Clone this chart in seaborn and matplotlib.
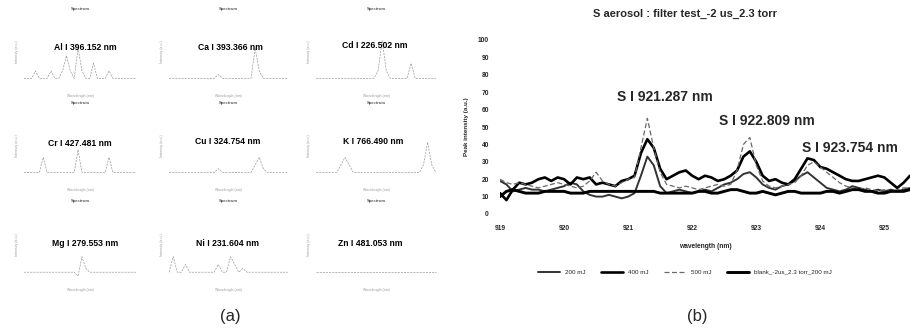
import matplotlib
matplotlib.use("Agg")
import matplotlib.pyplot as plt
import pandas as pd
import seaborn as sns

sns.set_style("white")
plt.rcParams['font.family'] = ['Liberation Sans', 'DejaVu Sans']

# ---------------- panel (b) data ----------------
wavelength = [919.0, 919.1, 919.2, 919.3, 919.4, 919.5, 919.6, 919.7, 919.8, 919.9,
              920.0, 920.1, 920.2, 920.3, 920.4, 920.5, 920.6, 920.7, 920.8, 920.9,
              921.0, 921.1, 921.2, 921.3, 921.4, 921.5, 921.6, 921.7, 921.8, 921.9,
              922.0, 922.1, 922.2, 922.3, 922.4, 922.5, 922.6, 922.7, 922.8, 922.9,
              923.0, 923.1, 923.2, 923.3, 923.4, 923.5, 923.6, 923.7, 923.8, 923.9,
              924.0, 924.1, 924.2, 924.3, 924.4, 924.5, 924.6, 924.7, 924.8, 924.9,
              925.0, 925.1, 925.2, 925.3, 925.4]

s_200 = [19, 17, 13, 14, 15, 14, 14, 13, 14, 15,
         16, 18, 17, 13, 11, 10, 10, 11, 10, 9,
         10, 12, 22, 33, 28, 16, 12, 13, 14, 13,
         12, 13, 14, 13, 15, 17, 18, 20, 23, 24,
         21, 17, 15, 14, 16, 17, 19, 22, 24, 21,
         18, 15, 14, 13, 14, 16, 15, 14, 13, 14,
         13, 14, 13, 14, 15]

s_400 = [12, 8, 14, 18, 17, 18, 20, 21, 19, 21,
         20, 17, 21, 20, 21, 17, 18, 17, 16, 19,
         20, 22, 35, 43, 38, 26, 20, 22, 24, 25,
         22, 20, 22, 21, 19, 20, 22, 25, 33, 36,
         30, 22, 19, 20, 18, 17, 20, 26, 32, 31,
         27, 26, 24, 22, 20, 19, 19, 20, 21, 22,
         21, 18, 15, 18, 22]

s_500 = [20, 18, 17, 18, 17, 16, 15, 16, 17, 18,
         17, 16, 15, 16, 19, 24, 19, 17, 16, 18,
         20, 21, 38, 55, 38, 24, 17, 16, 15, 16,
         15, 14, 15, 16, 17, 16, 17, 25, 40, 44,
         28, 19, 16, 15, 16, 17, 18, 22, 28, 30,
         27, 24, 21, 18, 16, 15, 14, 15, 14, 13,
         14, 13, 14, 15, 15]

s_blank = [10, 13, 14, 13, 12, 12, 12, 13, 13, 13,
           13, 12, 12, 12, 13, 13, 13, 13, 13, 13,
           13, 13, 13, 13, 13, 12, 12, 12, 12, 12,
           12, 13, 13, 12, 12, 13, 14, 14, 13, 12,
           12, 13, 12, 11, 12, 13, 13, 12, 12, 12,
           12, 13, 13, 12, 13, 14, 14, 13, 13, 12,
           12, 13, 13, 13, 14]

series_names = ["200 mJ", "400 mJ", "500 mJ", "blank_-2us_2.3 torr_200 mJ"]
y_ticks = [0, 10, 20, 30, 40, 50, 60, 70, 80, 90, 100]
x_ticks = [919, 920, 921, 922, 923, 924, 925]
peak_labels = ["S I 921.287 nm", "S I 922.809 nm", "S I 923.754 nm"]
peak_label_pos = [(921.58, 67), (923.16, 53.5), (924.47, 38)]

# ---------------- panel (a) data ----------------
element_labels = ["Al I 396.152 nm", "Ca I 393.366 nm", "Cd I 226.502 nm",
                  "Cr I 427.481 nm", "Cu I 324.754 nm", "K I 766.490 nm",
                  "Mg I 279.553 nm", "Ni I 231.604 nm", "Zn I 481.053 nm"]
spec_al = [1, 1, 1, 2, 1, 1, 1, 2, 1, 1, 2, 4, 2, 1, 5, 2, 1, 1, 3, 1, 1, 1, 2, 1, 1, 1, 1, 1, 1, 1]
spec_ca = [1, 1, 1, 1, 1, 1, 1, 1, 1, 1, 1, 1, 1.5, 1, 1, 1, 1, 1, 1, 1, 1, 5, 2, 1, 1, 1, 1, 1, 1, 1]
spec_cd = [1, 1, 1, 1, 1, 1, 1, 1, 1, 1, 1, 1, 1, 1, 1, 2, 6, 2, 1, 1, 1, 1, 1, 3, 1, 1, 1, 1, 1, 1]
spec_cr = [1, 1, 1, 1, 1, 3, 1, 1, 1, 1, 1, 1, 1, 1, 4, 1, 1, 1, 1, 1, 1, 1, 3, 1, 1, 1, 1, 1, 1, 1]
spec_cu = [1, 1, 1, 1, 1, 1, 1, 1, 1, 1, 1, 1, 1.5, 1, 1, 1, 1, 1, 1, 1, 1, 2, 3, 1.5, 1, 1, 1, 1, 1, 1]
spec_k = [1, 1, 1, 1, 1, 1, 2, 3, 2, 1, 1, 1, 1, 1, 1, 1, 1, 1, 1, 1, 1, 1, 1, 1, 1, 1, 2, 5, 2, 1]
spec_mg = [1, 1, 1, 1, 1, 1, 1, 1, 1, 1, 1, 1, 1, 1, 0.5, 3, 1.5, 1, 1, 1, 1, 1, 1, 1, 1, 1, 1, 1, 1, 1]
spec_ni = [1, 3, 1, 1, 2, 1, 1, 1, 1, 1, 1, 1, 2, 1, 1, 3, 2, 1, 1.5, 1, 1, 1, 1, 1, 1, 1, 1, 1, 1, 1]
spec_zn = [1, 1, 1, 1, 1, 1, 1, 1, 1, 1, 1, 1, 1, 1, 1, 1, 1, 1, 1, 1, 1, 1, 1, 1, 1, 1, 1, 1, 1, 1]
spectra = [spec_al, spec_ca, spec_cd, spec_cr, spec_cu, spec_k, spec_mg, spec_ni, spec_zn]
spec_index = list(range(30))

W, H = 910, 329
fig = plt.figure(figsize=(W / 100, H / 100), dpi=100)


def rect(x0, y0, x1, y1):
    return [x0 / W, 1 - y1 / H, (x1 - x0) / W, (y1 - y0) / H]


# ---------------- panel (a) ----------------
col_x = [(20, 140), (165, 292), (312, 440)]
row_y = [(18, 86), (112, 180), (210, 280)]
label_centres = [(85, 47), (230, 47), (375, 46), (80, 143), (228, 142), (373, 142),
                 (85, 244), (228, 243), (370, 243)]
for k in range(9):
    r, c = divmod(k, 3)
    x0, x1 = col_x[c]
    y0, y1 = row_y[r]
    ax = fig.add_axes(rect(x0, y0, x1, y1))
    sns.lineplot(x=spec_index, y=spectra[k], ax=ax, color="#9a9a9a", linewidth=0.5,
                 linestyle=(0, (3, 1.5)))
    ax.set_ylim(0, 9)
    ax.set_xlim(-1, 30)
    for s in ax.spines.values():
        s.set_visible(False)
    ax.tick_params(axis="both", labelsize=2, colors="#999999", length=1, width=0.3)
    ax.set_yticks([])
    ax.set_xticks([2, 8, 14, 20, 26])
    ax.set_xticklabels(["", "", "", "", ""])
    ax.set_title("Spectrum", fontsize=3, color="#555555", pad=6, fontweight="bold")
    ax.set_xlabel("Wavelength (nm)", fontsize=2.5, color="#999999", labelpad=1)
    ax.set_ylabel("Intensity (a.u.)", fontsize=2.5, color="#999999", labelpad=1)
    lx, ly = label_centres[k]
    fig.text(lx / W, 1 - ly / H, element_labels[k], ha="center", va="center",
             fontsize=6.2, fontweight="bold", color="black")

fig.text(230 / W, 1 - 317 / H, "(a)", ha="center", va="center", fontsize=12)

# ---------------- panel (b) ----------------
df = pd.DataFrame({"wavelength": wavelength, series_names[0]: s_200,
                   series_names[1]: s_400, series_names[2]: s_500,
                   series_names[3]: s_blank})
long = df.melt(id_vars="wavelength", var_name="series", value_name="intensity")

axb = fig.add_axes(rect(500, 40, 910, 214))
styles = {series_names[0]: dict(color="#333333", lw=1.4, ls="-"),
          series_names[1]: dict(color="black", lw=1.9, ls="-"),
          series_names[2]: dict(color="#6a6a6a", lw=0.9, ls=(0, (4, 2))),
          series_names[3]: dict(color="black", lw=2.1, ls="-")}
for name in series_names:
    st = styles[name]
    sns.lineplot(data=long[long["series"] == name], x="wavelength", y="intensity",
                 ax=axb, color=st["color"], linewidth=st["lw"], linestyle=st["ls"],
                 label=name, legend=False)

axb.set_xlim(919.0, 925.4)
axb.set_ylim(0, 100)
axb.set_yticks(y_ticks)
axb.set_xticks(x_ticks)
axb.tick_params(axis="both", labelsize=4.8, length=0, pad=8)
for lbl in axb.get_xticklabels() + axb.get_yticklabels():
    lbl.set_fontweight("bold")
for s in axb.spines.values():
    s.set_visible(False)
axb.set_xlabel("wavelength (nm)", fontsize=4.8, fontweight="bold", labelpad=8)
axb.set_ylabel("Peak intensity (a.u.)", fontsize=4.5, fontweight="bold", labelpad=6)

for txt, (px, py) in zip(peak_labels, peak_label_pos):
    axb.text(px, py, txt, ha="center", va="center", fontsize=10, fontweight="bold")

fig.text(685 / W, 1 - 14 / H, "S aerosol : filter test_-2 us_2.3 torr",
         ha="center", va="center", fontsize=8, fontweight="bold")

handles, labels = axb.get_legend_handles_labels()
fig.legend(handles, labels, loc="center", bbox_to_anchor=(685 / W, 1 - 272 / H),
           ncol=4, fontsize=4.5, frameon=False, handlelength=3.5, columnspacing=2.5)

fig.text(697 / W, 1 - 317 / H, "(b)", ha="center", va="center", fontsize=12)

fig.savefig("out.png", dpi=100)
